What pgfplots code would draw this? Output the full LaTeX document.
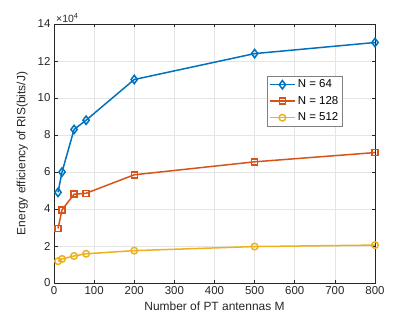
\documentclass[border=0pt]{standalone}
\usepackage{fontspec}
\setmainfont{Liberation Sans}
\usepackage{pgfplots}
\pgfplotsset{compat=1.18}
\definecolor{mblue}{rgb}{0,0.447,0.741}
\definecolor{morange}{rgb}{0.85,0.325,0.098}
\definecolor{myellow}{rgb}{0.929,0.694,0.125}
\definecolor{axgray}{rgb}{0.15,0.15,0.15}
\begin{document}
\begin{tikzpicture}
\begin{axis}[
  scale only axis,
  width=321bp, height=259bp,
  xmin=0, xmax=800, ymin=0, ymax=140000,
  xtick={0,100,...,800},
  ytick={0,20000,...,140000},
  yticklabels={0,2,4,6,8,10,12,14},
  scaled y ticks=false,
  /pgf/number format/assume math mode=true,
  ticklabel style={font=\fontsize{11.5}{13}\selectfont, text=axgray},
  label style={font=\fontsize{12}{14}\selectfont, text=axgray},
  xlabel={Number of PT antennas M},
  ylabel={Energy efficiency of RIS(bits/J)},
  xlabel style={yshift=0bp},
  ylabel style={yshift=3bp},
  grid=major,
  major grid style={color=black!10, line width=0.6bp},
  axis line style={color=axgray, line width=0.6bp},
  tick style={color=axgray, line width=0.6bp},
  tick align=inside,
  major tick length=3.5bp,
  legend style={at={(axis cs:530,112000)}, anchor=north west, draw=black!50, fill=white, font=\fontsize{11.5}{13}\selectfont, inner sep=2bp, row sep=3bp, legend cell align=left},
  legend image code/.code={\draw[mark repeat=2,mark phase=2] plot coordinates {(0cm,0cm) (0.45cm,0cm) (0.9cm,0cm)};},
  every axis plot/.append style={line width=1.5bp},
  clip=false,
]
\addplot[color=mblue, mark=diamond, mark size=4.2bp, mark options={solid, fill=none}] coordinates {
(10,49000) (20,60000) (50,83000) (80,88000) (200,110000) (500,124000) (800,130000)};
\addlegendentry{N = 64}
\addplot[color=morange, mark=square, mark size=3bp, mark options={solid, fill=none}] coordinates {
(10,29500) (20,39500) (50,48000) (80,48500) (200,58500) (500,65500) (800,70500)};
\addlegendentry{N = 128}
\addplot[color=myellow, mark=o, mark size=3.3bp, mark options={solid, fill=none}] coordinates {
(10,11800) (20,13000) (50,14600) (80,15800) (200,17500) (500,19700) (800,20500)};
\addlegendentry{N = 512}
\node[anchor=south west, inner sep=0pt, font=\fontsize{10.5}{12}\selectfont, text=axgray] at ([xshift=2bp,yshift=1bp]rel axis cs:0,1) {×10\textsuperscript{4}};
\end{axis}
\path ([xshift=-54bp,yshift=-37bp]current axis.south west) rectangle ([xshift=40bp,yshift=24bp]current axis.north east);
\end{tikzpicture}
\end{document}
